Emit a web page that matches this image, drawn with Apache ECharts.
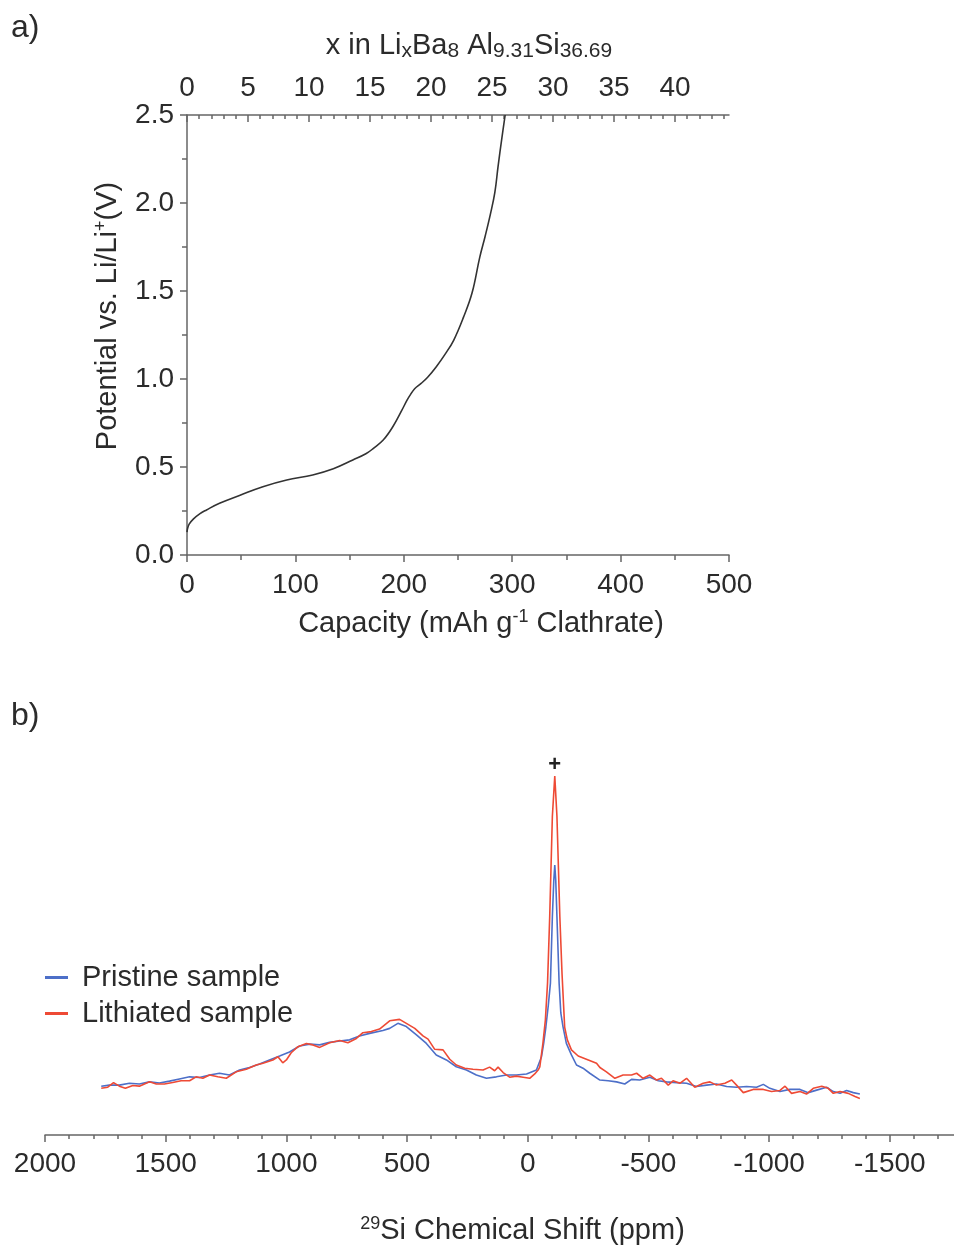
<!DOCTYPE html>
<html><head><meta charset="utf-8">
<script src="https://cdn.jsdelivr.net/npm/echarts@6/dist/echarts.min.js"></script>
<style>html,body{margin:0;padding:0;background:#fff}#c{width:954px;height:1247px}</style>
</head><body><div id="c"></div>
<script>
const FONT = '"Liberation Sans",Arial,Helvetica,sans-serif';
const TXT = '#2b2b2b';
const AX = '#666';

// ---------- Panel a: potential vs capacity ----------
const capacity  = [0, 0.5, 2, 6, 12, 18, 30, 49, 70, 92, 116, 135, 153, 165, 172, 181, 190, 198, 203, 206, 210, 216, 222, 230, 238, 246, 255, 263, 270, 275, 280, 284, 287, 290.5, 293.5];
const potential = [0.13, 0.15, 0.175, 0.205, 0.235, 0.256, 0.294, 0.34, 0.388, 0.426, 0.455, 0.49, 0.54, 0.575, 0.606, 0.653, 0.73, 0.82, 0.88, 0.91, 0.945, 0.975, 1.01, 1.07, 1.14, 1.22, 1.35, 1.49, 1.69, 1.81, 1.94, 2.06, 2.21, 2.37, 2.5];
const xLiMax = 44.43;                  // x in LixBa8Al9.31Si36.69 at 500 mAh/g
const xLiMajor = [0, 5, 10, 15, 20, 25, 30, 35, 40];
const xLiMinor = [0,1,2,3,4,5,6,7,8,9,10,11,12,13,14,15,16,17,18,19,20,21,22,23,24,25,26,27,28,29,30,31,32,33,34,35,36,37,38,39,40,41,42,43,44];

// ---------- Panel b: 29Si NMR ----------
const shiftMin = -1766, shiftMax = 2000;
const shiftMajor = [2000, 1500, 1000, 500, 0, -500, -1000, -1500];
const shiftMinor = [2000,1900,1800,1700,1600,1500,1400,1300,1200,1100,1000,900,800,700,600,500,400,300,200,100,0,-100,-200,-300,-400,-500,-600,-700,-800,-900,-1000,-1100,-1200,-1300,-1400,-1500,-1600,-1700];
const pristinePpm = [1767,1733,1692,1650,1609,1567,1526,1484,1443,1401,1360,1318,1277,1236,1194,1153,1111,1070,1028,987,945,904,862,821,779,738,697,655,600,572,538,503,461,420,379,337,296,254,213,171,130,88,47,5,-36,-57,-66,-75,-85,-94,-102,-108,-112,-116,-121,-130,-137,-146,-160,-181,-202,-229,-257,-299,-333,-368,-402,-430,-464,-506,-541,-575,-617,-658,-699,-741,-782,-824,-865,-907,-948,-976,-1003,-1045,-1086,-1128,-1162,-1197,-1238,-1266,-1294,-1321,-1349,-1376];
const pristineInt = [13.6,13.9,13.9,14.4,14.2,14.8,14.5,15.0,15.6,16.2,16.0,16.7,17.2,16.7,18.1,18.8,19.8,20.9,22.0,23.1,24.8,25.3,25.1,25.8,26.2,26.5,27.6,28.3,29.1,29.7,31.1,30.2,27.9,25.5,22.3,20.9,19.0,18.1,16.7,15.8,16.2,16.7,16.7,17.0,18.1,21.8,25.5,30,36,42.3,60.8,71,75.2,71,60.8,42.3,34,30.2,25.5,22.3,19.5,18.6,17.2,15.3,15.1,14.8,14.2,15.5,15.3,16.1,15.1,14.8,14.6,14.4,13.5,13.9,14.2,13.5,13.3,13.5,13.3,14.1,13.0,12.1,12.7,12.7,11.8,12.5,13.3,12.1,11.6,12.4,11.8,11.4];
const lithiatedPpm = [1767,1740,1716,1692,1667,1636,1609,1567,1539,1505,1471,1436,1401,1374,1346,1318,1284,1249,1208,1166,1125,1097,1056,1035,1015,1000,980,952,917,890,862,821,779,745,710,683,648,614,572,531,503,468,434,413,386,351,323,296,261,227,185,158,137,123,102,75,47,19,-8,-29,-43,-50,-63,-73,-82,-91,-102,-112,-121,-133,-142,-153,-164,-181,-209,-243,-285,-299,-326,-361,-395,-430,-451,-478,-506,-534,-554,-582,-602,-630,-658,-692,-727,-755,-782,-817,-845,-865,-893,-934,-976,-1010,-1045,-1066,-1093,-1128,-1155,-1183,-1218,-1245,-1266,-1294,-1328,-1356,-1376];
const lithiatedInt = [13.0,13.3,14.6,13.6,13.0,13.8,13.6,14.8,14.2,14.2,14.6,15.1,15.1,16.2,15.8,16.7,16.2,15.8,17.6,18.3,19.5,20.0,20.9,21.8,20.1,20.9,22.9,24.6,25.5,25.1,24.4,25.7,26.3,25.7,26.9,28.5,28.8,29.5,31.8,32.2,31.1,29.7,27.6,26.7,23.9,23.7,21.1,19.5,18.6,18.3,18.1,18.9,17.9,18.9,17.4,16.1,16.4,16.1,15.8,17.0,18.1,19.0,25.6,32,42.3,60.8,88.7,100,88.7,60.8,45,30,26.5,23.7,22.0,21.1,20.0,18.8,17.6,15.8,16.7,16.7,17.2,15.8,16.7,15.3,15.8,13.9,15.1,14.4,15.8,13.3,14.4,14.8,13.9,14.4,15.3,13.9,11.8,12.7,12.7,12.1,12.4,13.6,11.6,12.1,11.4,13.0,13.6,13.0,11.6,12.1,11.6,10.7,10.2];
const impurityPeak = [-112, 100];

const zip = (a, b) => a.map((v, i) => [v, b[i]]);
const FS = 28;
const lbl = (extra) => Object.assign({ fontSize: FS, color: TXT, fontFamily: FONT }, extra || {});
const rich = {
  n:   { fontSize: 29, color: TXT, fontFamily: FONT, lineHeight: 32 },
  sub: { fontSize: 21, color: TXT, fontFamily: FONT, verticalAlign: 'bottom', lineHeight: 12 },
  sup: { fontSize: 18, color: TXT, fontFamily: FONT, verticalAlign: 'top', lineHeight: 14 }
};
const tickStyle = { color: AX, width: 1.5 };

const chart = echarts.init(document.getElementById('c'), null, { renderer: 'canvas' });
chart.setOption({
  animation: false,
  backgroundColor: '#fff',
  textStyle: { fontFamily: FONT },
  graphic: [
    { type: 'text', left: 11, top: 12, style: { text: 'a)', fontSize: 32, fill: TXT, fontFamily: FONT } },
    { type: 'text', left: 11, top: 700, style: { text: 'b)', fontSize: 32, fill: TXT, fontFamily: FONT } }
  ],
  legend: {
    data: ['Pristine sample', 'Lithiated sample'],
    orient: 'vertical', left: 45, top: 962, padding: 0,
    icon: 'rect', itemWidth: 23, itemHeight: 3, itemGap: 5,
    textStyle: { fontSize: 29, color: TXT, fontFamily: FONT, lineHeight: 31, padding: [0, 0, 0, 9] }
  },
  grid: [
    { left: 187, right: 225, top: 115, bottom: 692 },
    { left: 45, right: 0, top: 758, bottom: 112 }
  ],
  xAxis: [
    { gridIndex: 0, type: 'value', position: 'bottom', min: 0, max: 500, interval: 100,
      axisLine: { lineStyle: tickStyle },
      axisTick: { length: 7, lineStyle: tickStyle },
      minorTick: { show: true, splitNumber: 2, length: 5, lineStyle: tickStyle },
      splitLine: { show: false },
      axisLabel: lbl({ margin: 16 }),
      name: '{n|Capacity (mAh g}{sup|-1}{n| Clathrate)}', nameLocation: 'middle', nameGap: 53,
      nameTextStyle: { rich: rich, padding: [0, 0, 0, 46] } },
    { gridIndex: 0, type: 'value', position: 'top', min: 0, max: xLiMax,
      axisLine: { lineStyle: tickStyle },
      axisTick: { inside: true, length: 7, customValues: xLiMajor, lineStyle: tickStyle },
      splitLine: { show: false },
      axisLabel: lbl({ margin: 13, customValues: xLiMajor }),
      name: '{n|x in Li}{sub|x}{n|Ba}{sub|8}{n| Al}{sub|9.31}{n|Si}{sub|36.69}', nameLocation: 'middle', nameGap: 53,
      nameTextStyle: { rich: rich, padding: [0, 0, 0, 22] } },
    { gridIndex: 0, type: 'value', position: 'top', min: 0, max: xLiMax,
      axisLine: { show: false },
      axisTick: { inside: true, length: 4, customValues: xLiMinor, lineStyle: tickStyle },
      splitLine: { show: false }, axisLabel: { show: false } },
    { gridIndex: 1, type: 'value', position: 'bottom', inverse: true, min: shiftMin, max: shiftMax,
      axisLine: { lineStyle: tickStyle },
      axisTick: { length: 7, customValues: shiftMajor, lineStyle: tickStyle },
      splitLine: { show: false },
      axisLabel: lbl({ margin: 15, customValues: shiftMajor, formatter: v => String(v) }),
      name: '{sup|29}{n|Si Chemical Shift (ppm)}', nameLocation: 'middle', nameGap: 80,
      nameTextStyle: { rich: rich, padding: [0, 0, 0, 46] } },
    { gridIndex: 1, type: 'value', position: 'bottom', inverse: true, min: shiftMin, max: shiftMax,
      axisLine: { show: false },
      axisTick: { length: 4, customValues: shiftMinor, lineStyle: tickStyle },
      splitLine: { show: false }, axisLabel: { show: false } }
  ],
  yAxis: [
    { gridIndex: 0, type: 'value', min: 0, max: 2.5, interval: 0.5,
      axisLine: { show: true, lineStyle: tickStyle },
      axisTick: { show: true, length: 7, lineStyle: tickStyle },
      minorTick: { show: true, splitNumber: 2, length: 5, lineStyle: tickStyle },
      splitLine: { show: false },
      axisLabel: lbl({ margin: 13, formatter: v => v.toFixed(1) }),
      name: '{n|Potential vs. Li/Li}{sup|+}{n|(V)}', nameLocation: 'middle', nameGap: 63, nameRotate: 90,
      nameTextStyle: { rich: rich, padding: [0, 0, 0, 38] } },
    { gridIndex: 1, type: 'value', min: 0, max: 105, show: false }
  ],
  series: [
    { type: 'line', name: 'Potential', xAxisIndex: 0, yAxisIndex: 0, data: zip(capacity, potential),
      showSymbol: false, smooth: 0.4,
      lineStyle: { color: '#333', width: 1.6 }, itemStyle: { color: '#333' } },
    { type: 'line', name: 'Pristine sample', xAxisIndex: 3, yAxisIndex: 1, data: zip(pristinePpm, pristineInt),
      showSymbol: false, lineStyle: { color: '#4d6fc8', width: 1.6 }, itemStyle: { color: '#4d6fc8' } },
    { type: 'line', name: 'Lithiated sample', xAxisIndex: 3, yAxisIndex: 1, data: zip(lithiatedPpm, lithiatedInt),
      showSymbol: false, lineStyle: { color: '#ee4a35', width: 1.6 }, itemStyle: { color: '#ee4a35' },
      markPoint: { symbol: 'circle', symbolSize: 1, itemStyle: { color: 'rgba(0,0,0,0)' },
        label: { show: true, position: 'top', distance: 0, formatter: '+', fontSize: 22, fontWeight: 'bold', color: '#222', fontFamily: FONT },
        data: [{ coord: impurityPeak }] } }
  ]
});
</script></body></html>
